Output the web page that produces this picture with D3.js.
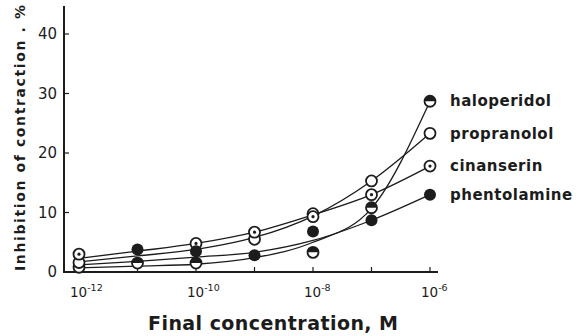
<!DOCTYPE html>
<html>
<head>
<meta charset="utf-8">
<script src="https://cdn.jsdelivr.net/npm/d3@7"></script>
<style>
  body { margin: 0; background: #fff; }
  svg text { fill: #1c1c1c; font-family: "DejaVu Sans", sans-serif; }
</style>
</head>
<body>
<svg id="chart" width="578" height="336"></svg>
<script>
// decades of final concentration (M)
const concentrations = [1e-12, 1e-11, 1e-10, 1e-9, 1e-8, 1e-7, 1e-6]
const xTickLabels = [[1e-12, "-12"], [1e-10, "-10"], [1e-8, "-8"], [1e-6, "-6"]]
const yTicks = [0, 10, 20, 30, 40]

// measured points (% inhibition), null = no marker drawn
const haloperidol  = [0.8, 1.5, 1.5, null, 3.3, 10.8, 28.7]
const propranolol  = [1.6, null, null, 5.5, 9.8, 15.3, 23.3]
const cinanserin   = [3.0, null, 4.8, 6.7, 9.3, 13.0, 17.8]
const phentolamine = [null, 3.8, 3.5, 2.8, 6.8, 8.7, 13.0]

// hand-drawn fitted curves read at each decade
const haloperidolFit  = [0.7, 1.0, 1.3, 2.4, 5.0, 10.7, 28.7]
const propranololFit  = [1.7, 2.7, 3.8, 5.8, 9.4, 15.3, 23.3]
const cinanserinFit   = [2.3, 3.5, 4.8, 6.7, 9.6, 13.0, 17.8]
const phentolamineFit = [1.2, 1.8, 2.5, 3.3, 5.3, 8.7, 13.0]

const series = [
	{ name: "haloperidol", pts: haloperidol, fit: haloperidolFit, mark: "half" },
	{ name: "propranolol", pts: propranolol, fit: propranololFit, mark: "open" },
	{ name: "cinanserin", pts: cinanserin, fit: cinanserinFit, mark: "dot" },
	{ name: "phentolamine", pts: phentolamine, fit: phentolamineFit, mark: "filled" },
]

const ink = "#1c1c1c"
const svg = d3.select("#chart")

const x = d3.scaleLog().domain([1e-12, 1e-6]).range([79, 430])
const y = d3.scaleLinear().domain([0, 40]).range([272, 34])

// axes (ticks point inward, like the original)
svg.append("line").attr("x1", 64).attr("x2", 64).attr("y1", 6).attr("y2", 272)
	.attr("stroke", ink).attr("stroke-width", 2)
svg.append("line").attr("x1", 63).attr("x2", 438).attr("y1", 272).attr("y2", 272)
	.attr("stroke", ink).attr("stroke-width", 2)

svg.selectAll(".ytick").data(yTicks).enter().append("line")
	.attr("x1", 64).attr("x2", 69).attr("y1", d => y(d)).attr("y2", d => y(d))
	.attr("stroke", ink).attr("stroke-width", 1.2)

svg.selectAll(".ylab").data(yTicks).enter().append("text")
	.attr("x", 57).attr("y", d => y(d)).attr("dy", "0.36em")
	.attr("text-anchor", "end").attr("font-size", 15)
	.text(d => d)

svg.selectAll(".xtick").data(concentrations).enter().append("line")
	.attr("x1", d => x(d)).attr("x2", d => x(d)).attr("y1", 272).attr("y2", 267)
	.attr("stroke", ink).attr("stroke-width", 1.2)

const xl = svg.selectAll(".xlab").data(xTickLabels).enter().append("text")
	.attr("x", d => x(d[0]) - 9).attr("y", 297)
	.attr("font-size", 13.5)
xl.append("tspan").text("10")
xl.append("tspan").attr("dy", -6).attr("font-size", 9.5).text(d => d[1])

// axis titles
svg.append("text")
	.attr("transform", "translate(25,138)rotate(-90)")
	.attr("text-anchor", "middle")
	.attr("font-size", 14).attr("font-weight", "bold")
	.attr("textLength", 266).attr("lengthAdjust", "spacing")
	.text("Inhibition of contraction . %")

svg.append("text")
	.attr("x", 273).attr("y", 330)
	.attr("text-anchor", "middle")
	.attr("font-size", 19).attr("font-weight", "bold")
	.attr("textLength", 250).attr("lengthAdjust", "spacing")
	.text("Final concentration, M")

// fitted curves
const line = d3.line()
	.x((d, i) => x(concentrations[i]))
	.y(d => y(d))
	.curve(d3.curveMonotoneX)

svg.selectAll(".curve").data(series).enter().append("path")
	.attr("d", s => line(s.fit))
	.attr("fill", "none").attr("stroke", ink).attr("stroke-width", 1.3)

// markers
const r = 5.5
function drawMark(g, kind) {
	if (kind === "filled") {
		g.append("circle").attr("r", r + 0.5).attr("fill", ink)
		return
	}
	g.append("circle").attr("r", r).attr("fill", "#fff")
		.attr("stroke", ink).attr("stroke-width", 1.8)
	if (kind === "half")
		g.append("path").attr("d", d3.arc()({ innerRadius: 0, outerRadius: r, startAngle: -Math.PI / 2, endAngle: Math.PI / 2 }))
			.attr("fill", ink)
	if (kind === "dot")
		g.append("circle").attr("r", 1.6).attr("fill", ink)
}

series.forEach(s => {
	s.pts.forEach((v, i) => {
		if (v === null) return
		const g = svg.append("g").attr("transform", `translate(${x(concentrations[i])},${y(v)})`)
		drawMark(g, s.mark)
	})
})

// labels next to the last points
svg.selectAll(".serieslab").data(series).enter().append("text")
	.attr("x", 450)
	.attr("y", s => y(s.pts[s.pts.length - 1]))
	.attr("dy", "0.35em")
	.attr("font-size", 15).attr("font-weight", "bold")
	.attr("letter-spacing", 0.5)
	.text(s => s.name)
</script>
</body>
</html>
